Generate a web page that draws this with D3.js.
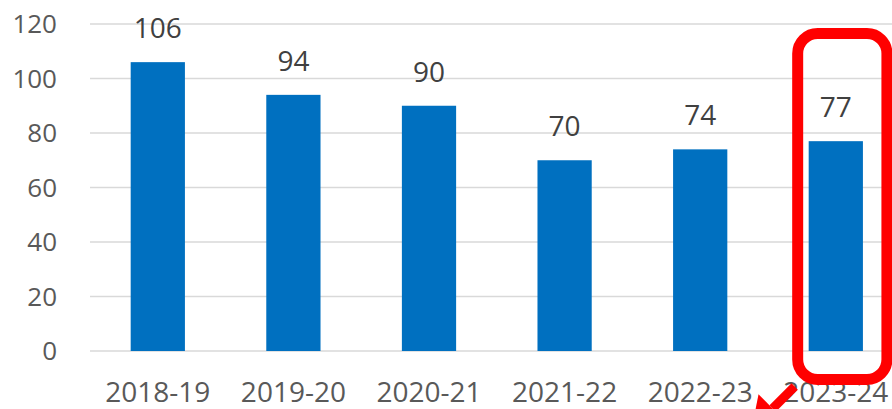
<!DOCTYPE html>
<html><head><meta charset="utf-8">
<script src="https://cdn.jsdelivr.net/npm/d3@7/dist/d3.min.js"></script>
<style>html,body{margin:0;padding:0;background:#fff;overflow:hidden}</style>
</head><body>
<svg id="c" width="892" height="409"></svg>
<script>
const categories = ["2018-19","2019-20","2020-21","2021-22","2022-23","2023-24"];
const values = [106, 94, 90, 70, 74, 77];
const yTicks = [0, 20, 40, 60, 80, 100, 120];

const svg = d3.select("#c");
const font = "'Open Sans', sans-serif";
const x = d3.scaleBand().domain(categories).range([90, 903.6]).paddingInner(0.6).paddingOuter(0.3);
const y = d3.scaleLinear().domain([0, 120]).range([351, 24]);

// gridlines
svg.append("g").selectAll("line").data(yTicks).join("line")
  .attr("x1", 90).attr("x2", 892)
  .attr("y1", d => y(d)).attr("y2", d => y(d))
  .attr("stroke", "#d9d9d9").attr("stroke-width", 1.5);

// y axis tick labels
const yAxis = d3.axisLeft(y).tickValues(yTicks).tickSize(0).tickPadding(0);
const ya = svg.append("g").attr("transform", "translate(57,0)").call(yAxis);
ya.select(".domain").remove();
ya.selectAll("text").attr("font-family", font).attr("font-size", 26).attr("fill", "#595959").attr("dy", "0.34em");

// bars
svg.append("g").selectAll("rect").data(values).join("rect")
  .attr("x", (d, i) => x(categories[i])).attr("width", x.bandwidth())
  .attr("y", d => y(d)).attr("height", d => y(0) - y(d))
  .attr("fill", "#0070c0");

// value labels
svg.append("g").selectAll("text").data(values).join("text")
  .attr("x", (d, i) => x(categories[i]) + x.bandwidth() / 2)
  .attr("y", d => y(d) - 24)
  .attr("text-anchor", "middle").attr("font-family", font).attr("font-size", 28)
  .attr("fill", "#404040").text(d => d);

// x axis labels
const xAxis = d3.axisBottom(x).tickSize(0).tickPadding(0);
const xa = svg.append("g").attr("transform", "translate(0,351)").call(xAxis);
xa.select(".domain").remove();
xa.selectAll("text").attr("font-family", font).attr("font-size", 28).attr("fill", "#595959")
  .attr("dy", null).attr("y", 51);

// highlight annotation
const last = categories[categories.length - 1];
const rx0 = x(last) - 11, rx1 = x(last) + x.bandwidth() + 24;
const ry0 = y(120) + 9.5, ry1 = y(0) + 28.5;

// arrow (pointing down-left, mostly off the picture)
const bx = rx0 - 25, by = ry1 + 29;
const s = Math.SQRT1_2;
svg.append("line").attr("x1", bx).attr("y1", by).attr("x2", bx + 22).attr("y2", by - 22)
  .attr("stroke", "#ff0000").attr("stroke-width", 9);
svg.append("polygon")
  .attr("points", [[bx - 20 * s, by - 20 * s], [bx + 20 * s, by + 20 * s], [bx - 30 * s, by + 30 * s]]
    .map(p => p.join(",")).join(" "))
  .attr("fill", "#ff0000");

svg.append("rect").attr("x", rx0).attr("y", ry0).attr("width", rx1 - rx0).attr("height", ry1 - ry0)
  .attr("rx", 20).attr("ry", 20).attr("fill", "none").attr("stroke", "#ff0000").attr("stroke-width", 11);
</script>
</body></html>
